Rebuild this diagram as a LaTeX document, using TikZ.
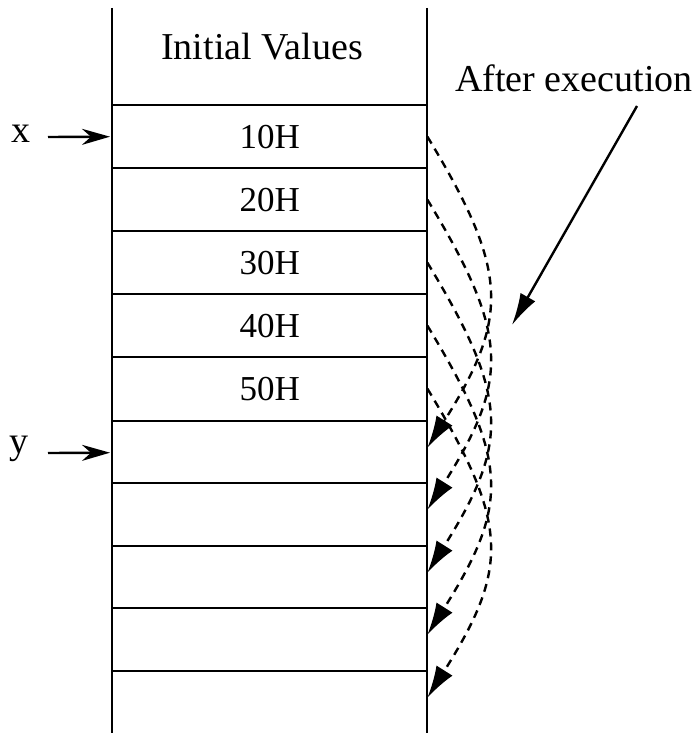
\documentclass[tikz,border=0pt]{standalone}
\usepackage{fontspec}
\setmainfont{Liberation Serif}
\usetikzlibrary{arrows.meta}
\tikzset{
  lbl/.style={font=\fontsize{38}{40}\selectfont, inner sep=0pt},
  cell/.style={minimum width=315pt, minimum height=63pt, inner sep=0pt, font=\fontsize{35}{38}\selectfont, anchor=north west, text depth=0pt},
  grid/.style={line width=2.4pt},
  ptr/.style={line width=2.4pt, -{Stealth[length=28pt,width=16pt,inset=9pt]}},
  moved/.style={line width=2.4pt, dash pattern=on 8pt off 6pt, -{Latex[length=32pt,width=19pt]}},
  callout/.style={line width=2.4pt, -{Latex[length=32pt,width=17pt]}}
}
\begin{document}
\begin{tikzpicture}[x=1pt,y=-1pt]
\useasboundingbox (0,0) rectangle (698,733);
% cells
\node[cell] (hdr) at (112,8) [minimum height=96pt] {};
\node[lbl] (title) at (262,47) {Initial Values};
\node[cell] (r1) at (112,105) {10H};
\node[cell] (r2) at (112,168) {20H};
\node[cell] (r3) at (112,231) {30H};
\node[cell] (r4) at (112,294) {40H};
\node[cell] (r5) at (112,357) {50H};
\node[cell] (r6) at (112,421) {};
\node[cell] (r7) at (112,483) {};
\node[cell] (r8) at (112,546) {};
\node[cell] (r9) at (112,608) {};
\node[cell] (r10) at (112,671) {};
% grid
\draw[grid] (112,8) -- (112,733);
\draw[grid] (427,8) -- (427,733);
\foreach \n in {r1,r2,r3,r4,r5,r6,r7,r8,r9,r10}
  \draw[grid] (\n.north west) -- (\n.north east);
% pointers
\node[lbl] (xl) at (21,134) {x};
\node[lbl] (yl) at (19,449) {y};
\draw[ptr] (48,137) -- (r1.west -| 110,0);
\draw[ptr] (48,453) -- (r6.west -| 110,0);
% moves
\foreach \a/\b in {r1/r6,r2/r7,r3/r8,r4/r9,r5/r10}
  \draw[moved] (\a.east) .. controls ([xshift=82pt,yshift=-135pt]\a.east) and ([xshift=82pt,yshift=135pt]\b.east) .. ([yshift=5pt]\b.east);
% callout
\node[lbl] (ae) at (574,78) {After execution};
\coordinate (aetip) at (512,325);
\draw[callout] (637,106) -- (aetip);
\end{tikzpicture}
\end{document}
